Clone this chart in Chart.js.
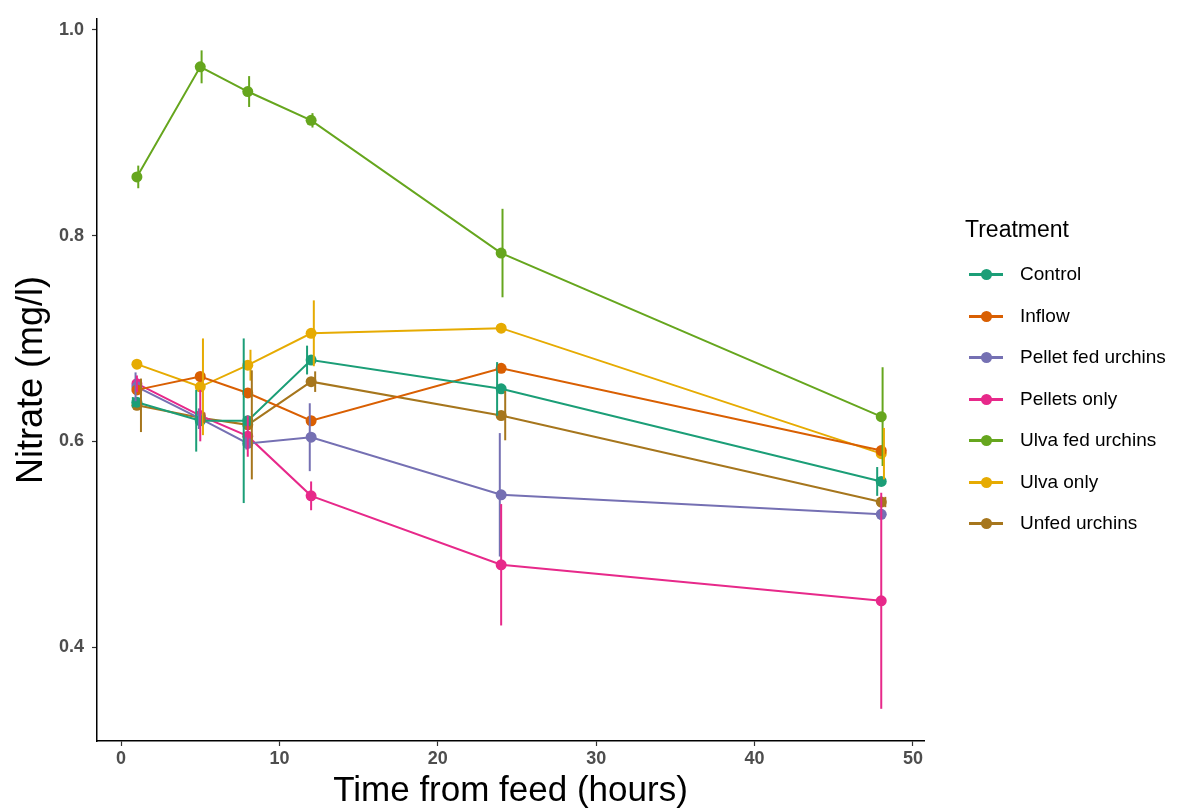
<!DOCTYPE html>
<html>
<head>
<meta charset="utf-8">
<script src="https://cdn.jsdelivr.net/npm/chart.js@4.4.0/dist/chart.umd.min.js"></script>
<style>
  body { margin: 0; background: #fff; font-family: "Liberation Sans", Arial, sans-serif; }
  #wrap { position: relative; width: 1184px; height: 808px; }
  #legend { position: absolute; left: 965px; top: 216px; color: #000; white-space: nowrap; }
  #legend .title { font-size: 23px; height: 49px; }
  #legend .item { position: relative; height: 41.5px; font-size: 19px; }
  #legend .key { position: absolute; left: 4px; top: 8px; width: 34px; height: 3px; }
  #legend .dot { position: absolute; left: 12px; top: -4px; width: 11px; height: 11px; border-radius: 50%; }
  #legend .lab { position: absolute; left: 55px; top: -2px; }
</style>
</head>
<body>
<div id="wrap">
  <canvas id="myChart" width="1184" height="808"></canvas>
  <div id="legend"></div>
</div>
<script>
// time points (hours)
var horas = [1, 5, 8, 12, 24, 48];

var tratamentos = ['Control', 'Inflow', 'Pellet fed urchins', 'Pellets only', 'Ulva fed urchins', 'Ulva only', 'Unfed urchins'];
var cores = ['#1B9E77', '#D95F02', '#7570B3', '#E7298A', '#66A61E', '#E6AB02', '#A6761D'];

// mean nitrate per treatment
var control = [0.638, 0.620, 0.620, 0.679, 0.651, 0.561];
var inflow = [0.650, 0.663, 0.647, 0.620, 0.671, 0.591];
var pelletFed = [0.653, 0.622, 0.598, 0.604, 0.548, 0.529];
var pelletsOnly = [0.656, 0.625, 0.605, 0.547, 0.480, 0.445];
var ulvaFed = [0.857, 0.964, 0.940, 0.912, 0.783, 0.624];
var ulvaOnly = [0.675, 0.653, 0.674, 0.705, 0.710, 0.588];
var unfed = [0.635, 0.623, 0.616, 0.658, 0.625, 0.541];

// error (+/-) per treatment
var controlErr = [0.005, 0.030, 0.080, 0.014, 0.026, 0.014];
var inflowErr = [0.003, 0.003, 0.003, 0.003, 0.003, 0.003];
var pelletFedErr = [0.014, 0.010, 0.006, 0.033, 0.060, 0.005];
var pelletsOnlyErr = [0.008, 0.025, 0.020, 0.014, 0.059, 0.105];
var ulvaFedErr = [0.011, 0.016, 0.015, 0.007, 0.043, 0.048];
var ulvaOnlyErr = [0.004, 0.047, 0.015, 0.032, 0.004, 0.025];
var unfedErr = [0.026, 0.005, 0.053, 0.010, 0.024, 0.005];

var xTicks = [0, 10, 20, 30, 40, 50];
var yTicks = [0.4, 0.6, 0.8, 1.0];

var medias = [control, inflow, pelletFed, pelletsOnly, ulvaFed, ulvaOnly, unfed];
var erros = [controlErr, inflowErr, pelletFedErr, pelletsOnlyErr, ulvaFedErr, ulvaOnlyErr, unfedErr];

var datasets = tratamentos.map(function (nome, i) {
    return {
        label: nome,
        data: horas.map(function (h, j) { return { x: h, y: medias[i][j] }; }),
        erro: erros[i],
        borderColor: cores[i],
        backgroundColor: cores[i],
        borderWidth: 2,
        pointRadius: 5.5,
        pointHoverRadius: 5.5,
        pointBorderWidth: 0,
        tension: 0
    };
});

// vertical error bars, dodged a little per group like ggplot
var errorBars = {
    id: 'errorBars',
    afterDatasetsDraw: function (chart) {
        var ctx = chart.ctx;
        var xs = chart.scales.x, ys = chart.scales.y;
        var n = chart.data.datasets.length;
        ctx.save();
        chart.data.datasets.forEach(function (ds, i) {
            var dodge = (i - (n - 1) / 2) * 1.35;
            ctx.strokeStyle = ds.borderColor;
            ctx.lineWidth = 2;
            ds.data.forEach(function (p, j) {
                var px = xs.getPixelForValue(p.x) + dodge;
                ctx.beginPath();
                ctx.moveTo(px, ys.getPixelForValue(p.y + ds.erro[j]));
                ctx.lineTo(px, ys.getPixelForValue(p.y - ds.erro[j]));
                ctx.stroke();
            });
        });
        ctx.restore();
    }
};

var fonteTick = { family: 'Liberation Sans', size: 18, weight: 'bold' };

var ctx = document.getElementById('myChart').getContext('2d');
var myChart = new Chart(ctx, {
    type: 'line',
    data: { datasets: datasets },
    plugins: [errorBars],
    options: {
        responsive: false,
        animation: false,
        layout: { padding: { left: 0, top: 18, right: 260, bottom: 0 } },
        plugins: { legend: { display: false }, tooltip: { enabled: false } },
        scales: {
            x: {
                type: 'linear',
                min: -1.52,
                max: 50.7,
                afterBuildTicks: function (axis) { axis.ticks = xTicks.map(function (v) { return { value: v }; }); },
                afterFit: function (axis) { axis.height = 67; },
                grid: { drawOnChartArea: false, drawTicks: true, tickLength: 5, tickColor: '#333', tickWidth: 1.2 },
                border: { color: '#000', width: 1.5 },
                ticks: { color: '#4d4d4d', font: fonteTick, padding: 2, maxRotation: 0 },
                title: { display: true, text: 'Time from feed (hours)', color: '#000', font: { family: 'Liberation Sans', size: 35 }, padding: { top: 0, bottom: -4 } }
            },
            y: {
                min: 0.3087,
                max: 1.0107,
                afterBuildTicks: function (axis) { axis.ticks = yTicks.map(function (v) { return { value: v }; }); },
                afterFit: function (axis) { axis.width = 97; },
                grid: { drawOnChartArea: false, drawTicks: true, tickLength: 5, tickColor: '#333', tickWidth: 1.2 },
                border: { color: '#000', width: 1.5 },
                ticks: { color: '#4d4d4d', font: fonteTick, padding: 8,
                    callback: function (v) { return v.toFixed(1); } },
                title: { display: true, text: 'Nitrate (mg/l)', color: '#000', font: { family: 'Liberation Sans', size: 36 }, padding: { top: 10, bottom: 10 } }
            }
        }
    }
});

// legend on the right
var legenda = document.getElementById('legend');
var html = '<div class="title">Treatment</div>';
tratamentos.forEach(function (nome, i) {
    html += '<div class="item"><div class="key" style="background:' + cores[i] + '"><div class="dot" style="background:' + cores[i] + '"></div></div><div class="lab">' + nome + '</div></div>';
});
legenda.innerHTML = html;
</script>
</body>
</html>
